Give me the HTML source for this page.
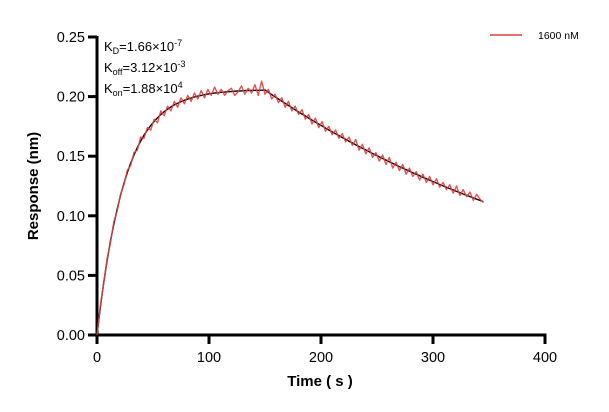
<!DOCTYPE html>
<html><head><meta charset="utf-8"><style>
body{margin:0;background:#fff;}
svg{display:block;font-family:"Liberation Sans",Arial,sans-serif;}
</style></head><body>
<svg id="chart" width="609" height="412">
<g id="axes"></g>
<g id="plot"></g>
<g font-size="13" fill="#000">
<text x="104" y="51">K<tspan font-size="9" dy="3">D</tspan><tspan dy="-3">=1.66×10</tspan><tspan font-size="9" dy="-5">-7</tspan></text>
<text x="104" y="72">K<tspan font-size="9" dy="3">off</tspan><tspan dy="-3">=3.12×10</tspan><tspan font-size="9" dy="-5">-3</tspan></text>
<text x="104" y="93">K<tspan font-size="9" dy="3">on</tspan><tspan dy="-3">=1.88×10</tspan><tspan font-size="9" dy="-5">4</tspan></text>
</g>
<g>
<line x1="490" y1="35" x2="522" y2="35" stroke="#e04040" stroke-width="1.5"/>
<text x="538" y="39" font-size="10.5">1600 nM</text>
</g>
<text transform="translate(38,186) rotate(-90)" text-anchor="middle" font-size="15" font-weight="bold">Response (nm)</text>
<text x="320" y="386" text-anchor="middle" font-size="15" font-weight="bold">Time ( s )</text>
</svg>
<script>
const xTicks=[0,100,200,300,400];
const yTicks=[0,0.05,0.10,0.15,0.20,0.25];
const yTickLabels=["0.00","0.05","0.10","0.15","0.20","0.25"];
const dataStep=3;
const dataValues=[0.000,0.025,0.043,0.064,0.077,0.095,0.104,0.118,0.126,0.138,0.142,0.153,0.155,0.166,0.165,0.174,0.172,0.181,0.178,0.188,0.184,0.192,0.188,0.196,0.191,0.199,0.194,0.201,0.196,0.203,0.198,0.205,0.199,0.206,0.201,0.208,0.202,0.206,0.201,0.205,0.207,0.201,0.204,0.209,0.202,0.207,0.203,0.210,0.201,0.213,0.202,
0.206,0.198,0.202,0.195,0.199,0.191,0.196,0.188,0.192,0.185,0.189,0.181,0.185,0.177,0.182,0.174,0.179,0.171,0.175,0.168,0.172,0.165,0.169,0.162,0.166,0.159,0.164,0.155,0.160,0.152,0.157,0.149,0.153,0.146,0.151,0.143,0.149,0.140,0.145,0.138,0.143,0.135,0.140,0.133,0.137,0.130,0.135,0.128,0.133,0.126,0.131,0.124,0.128,0.122,0.126,0.119,0.125,0.117,0.122,0.116,0.120,0.113,0.118,0.114,0.111];
const fitValues=[0,0.0233,0.0440,0.0623,0.0785,0.0929,0.1057,0.1171,0.1271,0.1360,0.1440,0.1510,0.1572,0.1627,0.1676,0.1719,0.1758,0.1792,0.1822,0.1849,0.1873,0.1894,0.1913,0.1930,0.1944,0.1957,0.1969,0.1979,0.1988,0.1997,0.2004,0.2010,0.2016,0.2021,0.2025,0.2029,0.2033,0.2036,0.2038,0.2041,0.2043,0.2045,0.2047,0.2048,0.2050,0.2051,0.2052,0.2053,0.2053,0.2054,0.2055,
0.2036,0.2017,0.1998,0.1980,0.1961,0.1943,0.1925,0.1907,0.1889,0.1871,0.1854,0.1837,0.1820,0.1803,0.1786,0.1769,0.1753,0.1736,0.1720,0.1704,0.1688,0.1673,0.1657,0.1642,0.1626,0.1611,0.1596,0.1581,0.1566,0.1552,0.1537,0.1523,0.1509,0.1495,0.1481,0.1467,0.1453,0.1440,0.1426,0.1413,0.1400,0.1387,0.1374,0.1361,0.1349,0.1336,0.1323,0.1311,0.1299,0.1287,0.1275,0.1263,0.1251,0.1239,0.1228,0.1217,0.1205,0.1194,0.1183,0.1172,0.1161,0.1150,0.1139,0.1129,0.1118];

const NS="http://www.w3.org/2000/svg";
const X0=97,X1=545,Y0=335,Y1=37;
function xs(v){return X0+(v-0)/(400-0)*(X1-X0);}
function ys(v){return Y0-(v-0)/(0.25-0)*(Y0-Y1);}
function mk(tag,attrs,parent){const e=document.createElementNS(NS,tag);for(const k in attrs)e.setAttribute(k,attrs[k]);parent.appendChild(e);return e;}
const axes=document.getElementById('axes');
const plot=document.getElementById('plot');
let e=mk('line',{x1:X0,y1:Y0+1.5,x2:X0,y2:Y1-1,stroke:'#000','stroke-width':3},axes);


e=mk('line',{x1:X0-1.5,y1:Y0,x2:X1+1.5,y2:Y0,stroke:'#000','stroke-width':3},axes);


yTicks.forEach((v,i)=>{
 const t=mk('line',{x1:X0-9,y1:ys(v),x2:X0,y2:ys(v),stroke:'#000','stroke-width':3},axes);
 
 
 const l=mk('text',{x:X0-12,y:ys(v)+5,'text-anchor':'end','font-size':14.5},axes);
 l.textContent=yTickLabels[i];
 
 
});
xTicks.forEach(v=>{
 const t=mk('line',{x1:xs(v),y1:Y0,x2:xs(v),y2:Y0+9,stroke:'#000','stroke-width':3},axes);
 
 
 const l=mk('text',{x:xs(v),y:Y0+27,'text-anchor':'middle','font-size':14.5},axes);
 l.textContent=String(v);
 
 
});
const fPts=fitValues.map((v,i)=>xs(i*dataStep).toFixed(1)+','+ys(v).toFixed(1)).join(' ');
e=mk('polyline',{points:fPts,fill:'none',stroke:'#000','stroke-width':1.4,'stroke-linejoin':'round'},plot);


const dPts=dataValues.map((v,i)=>xs(i*dataStep).toFixed(1)+','+ys(v).toFixed(1)).join(' ');
e=mk('polyline',{points:dPts,fill:'none',stroke:'#e04040','stroke-width':1.4,'stroke-linejoin':'round','stroke-opacity':0.9},plot);


</script>
</body></html>
